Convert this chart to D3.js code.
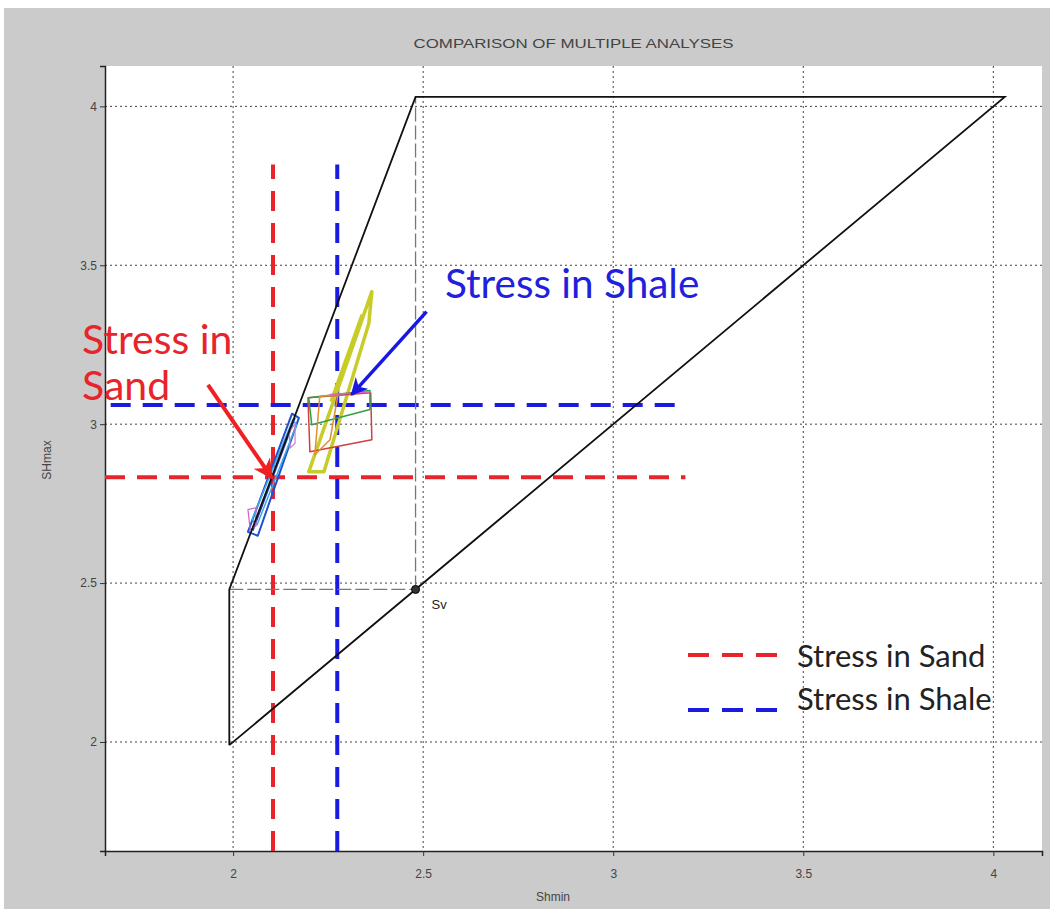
<!DOCTYPE html>
<html><head><meta charset="utf-8">
<script src="https://cdn.jsdelivr.net/npm/d3@7"></script>
<style>
html,body{margin:0;padding:0;background:#fff;}
svg{display:block;}
</style></head>
<body>
<svg id="chart" width="1050" height="909"></svg>
<script>
// ---- data ----
const title = "COMPARISON OF MULTIPLE ANALYSES";
const xLabel = "Shmin";
const yLabel = "SHmax";
const xTicks = [2, 2.5, 3, 3.5, 4];
const yTicks = [2, 2.5, 3, 3.5, 4];
const xDomain = [1.663, 4.128];
const yDomain = [1.657, 4.127];
const svValue = 2.48;
const boundPolygon = [[1.99, 1.99], [1.99, 2.48], [2.48, 4.03], [4.03, 4.03], [1.99, 1.99]];
const svGuideH = [[1.99, 2.48], [2.48, 2.48]];
const svGuideV = [[2.48, 2.48], [2.48, 4.03]];
const sandShmin = 2.105, sandSHmax = 2.833;
const shaleShmin = 2.274, shaleSHmax = 3.06;
const stressLineXEnd = 3.19;
const stressLineYTop = 3.817;
// analysis polygons
const analysisNames = ["blue", "blueInner", "lightblue", "pinkLow", "pinkHigh", "yellow", "yellowInner", "red", "green", "orange", "pinkTop"];
const analysisColors = ["#2050d0", "#1838b0", "#40a8e8", "#d060d0", "#d080d0", "#c8cc28", "#c8cc28", "#d04040", "#30a040", "#e09030", "#e060c0"];
const analysisWidths = [2, 1.5, 1.5, 1.2, 1.2, 3.5, 3, 1.5, 1.5, 1.5, 1.5];
const analysisPoints = [
  [[2.039, 2.661], [2.155, 3.033], [2.173, 3.020], [2.065, 2.649]],
  [[2.052, 2.665], [2.163, 3.020]],
  [[2.050, 2.700], [2.157, 3.014], [2.167, 2.998], [2.063, 2.683]],
  [[2.039, 2.731], [2.045, 2.668], [2.060, 2.680], [2.060, 2.737]],
  [[2.147, 2.976], [2.163, 3.000], [2.163, 2.940], [2.150, 2.925]],
  [[2.199, 2.850], [2.365, 3.417], [2.357, 3.317], [2.239, 2.850]],
  [[2.257, 3.071], [2.339, 3.345]],
  [[2.197, 3.083], [2.362, 3.099], [2.365, 2.951], [2.202, 2.913]],
  [[2.199, 3.083], [2.360, 3.106], [2.360, 3.046], [2.207, 2.998]],
  [[2.228, 3.087], [2.276, 3.093], [2.255, 2.951], [2.215, 2.904]],
  [[2.255, 3.093], [2.362, 3.101]]
];
const sandLabelLines = ["Stress in", "Sand"];
const shaleLabel = "Stress in Shale";
const sandArrow = [[1.934, 3.124], [2.102, 2.831]];
const shaleArrow = [[2.509, 3.354], [2.312, 3.093]];
const legendLabels = ["Stress in Sand", "Stress in Shale"];
const legendColors = ["#e8242a", "#1a1ae0"];

// ---- layout ----
const svg = d3.select("#chart");
const W = 1050, H = 909;
const plot = {left: 105, right: 1042, top: 66, bottom: 851};

svg.append("rect").attr("x", 4).attr("y", 8).attr("width", W - 4).attr("height", H - 8).attr("fill", "#cbcbcb");
svg.append("rect").attr("x", plot.left).attr("y", plot.top)
  .attr("width", plot.right - plot.left).attr("height", plot.bottom - plot.top).attr("fill", "#fff");

const x = d3.scaleLinear().domain(xDomain).range([plot.left, plot.right]);
const y = d3.scaleLinear().domain(yDomain).range([plot.bottom, plot.top]);

const defs = svg.append("defs");
function marker(id, color) {
  defs.append("marker").attr("id", id).attr("viewBox", "0 0 10 10").attr("refX", 9).attr("refY", 5)
    .attr("markerWidth", 5).attr("markerHeight", 5).attr("orient", "auto-start-reverse")
    .attr("markerUnits", "strokeWidth")
    .append("path").attr("d", "M0,0 L10,5 L0,10 L3,5 z").attr("fill", color);
}
marker("arrRed", "#f02020");
marker("arrBlue", "#1818e0");

// grid
const g = svg.append("g");
g.selectAll(".gx").data(xTicks).join("line")
  .attr("x1", d => x(d)).attr("x2", d => x(d)).attr("y1", plot.top).attr("y2", plot.bottom)
  .attr("stroke", "#444").attr("stroke-width", 1).attr("stroke-dasharray", "2,3");
g.selectAll(".gy").data(yTicks).join("line")
  .attr("y1", d => y(d)).attr("y2", d => y(d)).attr("x1", plot.left).attr("x2", plot.right)
  .attr("stroke", "#444").attr("stroke-width", 1).attr("stroke-dasharray", "2,3");

// axes
const xAxis = d3.axisBottom(x).tickValues(xTicks).tickSize(5).tickFormat(d3.format("~g"));
const yAxis = d3.axisLeft(y).tickValues(yTicks).tickSize(5).tickFormat(d3.format("~g"));
const gx = svg.append("g").attr("transform", `translate(0,${plot.bottom})`).call(xAxis);
const gy = svg.append("g").attr("transform", `translate(${plot.left},0)`).call(yAxis);
[gx, gy].forEach(a => {
  a.select(".domain").attr("stroke", "#222").attr("stroke-width", 1.5);
  a.selectAll(".tick line").attr("stroke", "#333");
  a.selectAll(".tick text").attr("fill", "#444").attr("font-size", 12).attr("font-family", "Liberation Sans, Arial, sans-serif");
});
gx.selectAll(".tick text").attr("dy", "1.6em");

svg.append("text").attr("x", (plot.left + plot.right) / 2).attr("y", 48).attr("text-anchor", "middle")
  .attr("font-family", "Liberation Sans, Arial, sans-serif").attr("font-size", 13).attr("fill", "#444")
  .attr("textLength", 320).attr("lengthAdjust", "spacingAndGlyphs").text(title);
svg.append("text").attr("x", 553).attr("y", 901).attr("text-anchor", "middle")
  .attr("font-family", "Liberation Sans, Arial, sans-serif").attr("font-size", 12).attr("fill", "#444").text(xLabel);
svg.append("text").attr("transform", "translate(51,460) rotate(-90)").attr("text-anchor", "middle")
  .attr("font-family", "Liberation Sans, Arial, sans-serif").attr("font-size", 12).attr("fill", "#444").text(yLabel);

const line = d3.line().x(d => x(d[0])).y(d => y(d[1]));

// stress dashed lines
const stressLines = [
  {pts: [[xDomain[0], sandSHmax], [stressLineXEnd, sandSHmax]], c: legendColors[0]},
  {pts: [[1.678, shaleSHmax], [stressLineXEnd, shaleSHmax]], c: legendColors[1]},
  {pts: [[sandShmin, yDomain[0]], [sandShmin, stressLineYTop]], c: legendColors[0]},
  {pts: [[shaleShmin, yDomain[0]], [shaleShmin, stressLineYTop]], c: legendColors[1]}
];
svg.append("g").selectAll("path").data(stressLines).join("path")
  .attr("d", d => line(d.pts)).attr("stroke", d => d.c).attr("stroke-width", 4)
  .attr("stroke-dasharray", "20,12").attr("fill", "none");

// guides
svg.append("g").selectAll("path").data([svGuideH, svGuideV]).join("path")
  .attr("d", line).attr("stroke", "#777").attr("stroke-width", 1.3).attr("stroke-dasharray", "14,4").attr("fill", "none");

// analysis polygons
svg.append("g").selectAll("path").data(analysisPoints).join("path")
  .attr("d", (d, i) => line(d) + (d.length > 2 ? "Z" : ""))
  .attr("stroke", (d, i) => analysisColors[i]).attr("stroke-width", (d, i) => analysisWidths[i])
  .attr("stroke-linejoin", "round").attr("fill", "none");

// boundary polygon
svg.append("path").attr("d", line(boundPolygon)).attr("stroke", "#111").attr("stroke-width", 1.8).attr("fill", "none");
svg.append("circle").attr("cx", x(svValue)).attr("cy", y(svValue)).attr("r", 4)
  .attr("fill", "#333").attr("stroke", "#000").attr("stroke-width", 1);
svg.append("text").attr("x", x(svValue) + 16).attr("y", y(svValue) + 20)
  .attr("font-family", "Liberation Sans, Arial, sans-serif").attr("font-size", 13).attr("fill", "#222").text("Sv");

// arrows
svg.append("path").attr("d", line(sandArrow)).attr("stroke", "#f02020").attr("stroke-width", 4)
  .attr("fill", "none").attr("marker-end", "url(#arrRed)");
svg.append("path").attr("d", line(shaleArrow)).attr("stroke", "#1818e0").attr("stroke-width", 3.5)
  .attr("fill", "none").attr("marker-end", "url(#arrBlue)");

// annotation texts
const ff = "Lato, 'Open Sans', sans-serif";
svg.append("g").selectAll("text").data(sandLabelLines).join("text")
  .attr("x", 82).attr("y", (d, i) => 354 + i * 46)
  .attr("font-family", ff).attr("font-size", 41).attr("fill", "#e8242a").text(d => d);
svg.append("text").attr("x", 445).attr("y", 298).attr("font-family", ff).attr("font-size", 40.5)
  .attr("fill", "#2020dd").text(shaleLabel);

// legend
const lg = svg.append("g");
lg.selectAll("line").data(legendLabels).join("line")
  .attr("x1", 688).attr("x2", 778).attr("y1", (d, i) => 655 + i * 55).attr("y2", (d, i) => 655 + i * 55)
  .attr("stroke", (d, i) => legendColors[i]).attr("stroke-width", 4).attr("stroke-dasharray", "21,13");
lg.selectAll("text").data(legendLabels).join("text")
  .attr("x", 797).attr("y", (d, i) => 667 + i * 43)
  .attr("font-family", ff).attr("font-size", 31).attr("fill", "#222").text(d => d);
</script>
</body></html>
